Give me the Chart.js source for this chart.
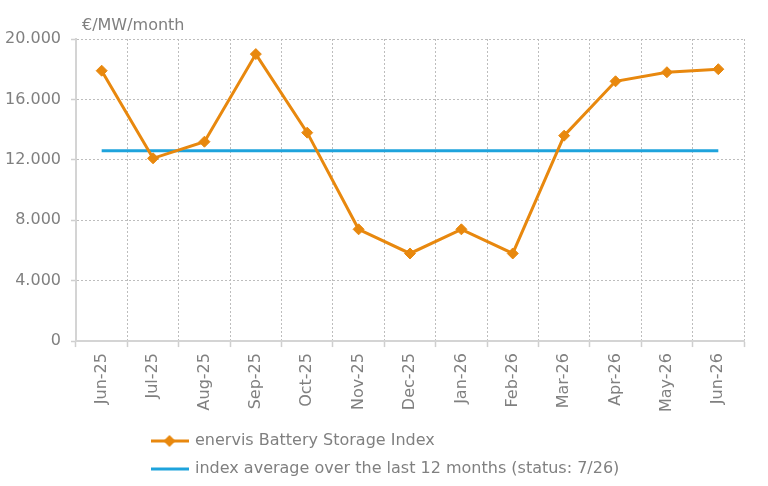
<!DOCTYPE html>
<html><head><meta charset="utf-8">
<script src="https://cdn.jsdelivr.net/npm/chart.js@4.4.1/dist/chart.umd.min.js"></script>
<style>html,body{margin:0;padding:0;background:#fff;} #wrap{width:768px;height:486px;position:relative;}</style>
</head><body><div id="wrap"><canvas id="c"></canvas></div>
<script>
const categories = ['Jun-25','Jul-25','Aug-25','Sep-25','Oct-25','Nov-25','Dec-25','Jan-26','Feb-26','Mar-26','Apr-26','May-26','Jun-26'];
const indexValues = [17900, 12100, 13200, 19000, 13800, 7400, 5800, 7400, 5800, 13600, 17200, 17800, 18000];
const averageValues = [12600, 12600, 12600, 12600, 12600, 12600, 12600, 12600, 12600, 12600, 12600, 12600, 12600];
const yTicks = [0, 4000, 8000, 12000, 16000, 20000];
const yTickLabels = ['0', '4.000', '8.000', '12.000', '16.000', '20.000'];
const seriesNames = ['enervis Battery Storage Index', 'index average over the last 12 months (status: 7/26)'];
const unitLabel = '€/MW/month';

const ORANGE = '#e8880e';
const BLUE = '#1ea3dc';
const TEXT = '#808080';
const FONT = 'DejaVu Sans';

function legendImage(color, diamond) {
  const c = document.createElement('canvas');
  c.width = 38; c.height = 14;
  const g = c.getContext('2d');
  g.strokeStyle = color; g.lineWidth = 3;
  g.beginPath(); g.moveTo(0, 7); g.lineTo(38, 7); g.stroke();
  if (diamond) {
    g.fillStyle = color;
    g.beginPath(); g.moveTo(19, 1); g.lineTo(25, 7); g.lineTo(19, 13); g.lineTo(13, 7); g.closePath(); g.fill();
  }
  return c;
}
const legendImages = [legendImage(ORANGE, true), legendImage(BLUE, false)];

const shiftPlugin = {
  id: 'shiftLegend',
  afterLayout(chart) {
    chart.legend.left += 145;
    chart.legend.right += 145;
    chart.legend.top += 3;
    chart.legend.bottom += 3;
  },
  afterDraw(chart) {
    const ctx = chart.ctx;
    ctx.save();
    ctx.font = '16px "' + FONT + '"';
    ctx.fillStyle = TEXT;
    ctx.textBaseline = 'middle';
    ctx.textAlign = 'left';
    ctx.fillText(unitLabel, chart.chartArea.left + 6, chart.chartArea.top - 13);
    ctx.restore();
  }
};

new Chart(document.getElementById('c'), {
  type: 'line',
  data: {
    labels: categories,
    datasets: [
      {
        label: seriesNames[0], data: indexValues,
        borderColor: ORANGE, backgroundColor: ORANGE, borderWidth: 3,
        pointStyle: 'rectRot', pointRadius: 5.5, pointBorderWidth: 1,
        pointBackgroundColor: ORANGE, pointBorderColor: ORANGE, tension: 0
      },
      {
        label: seriesNames[1], data: averageValues,
        borderColor: BLUE, backgroundColor: BLUE, borderWidth: 3,
        pointRadius: 0, tension: 0
      }
    ]
  },
  options: {
    responsive: true, maintainAspectRatio: false, animation: false,
    layout: { padding: { left: -5, right: 24, top: 39, bottom: 2 } },
    plugins: {
      tooltip: { enabled: false },
      title: { display: false },
      legend: {
        position: 'bottom', align: 'start',
        labels: {
          color: TEXT, font: { family: FONT, size: 16 }, padding: 12,
          usePointStyle: true, pointStyleWidth: 35,
          generateLabels: (chart) => seriesNames.map((name, i) => ({
            text: name, fontColor: TEXT, pointStyle: legendImages[i],
            fillStyle: i ? BLUE : ORANGE, strokeStyle: i ? BLUE : ORANGE,
            lineWidth: 0, hidden: false, datasetIndex: i
          }))
        }
      }
    },
    scales: {
      x: {
        offset: true,
        grid: { offset: true, color: '#bdbdbd', lineWidth: 1, tickLength: 6, tickColor: '#cfcfcf', tickWidth: 1.5 },
        border: { display: true, color: '#d4d4d4', width: 2, dash: [2, 2] },
        ticks: { color: TEXT, font: { family: FONT, size: 16 }, minRotation: 90, maxRotation: 90, padding: 6, autoSkip: false }
      },
      y: {
        min: 0, max: 20000,
        afterBuildTicks: (s) => { s.ticks = yTicks.map(v => ({ value: v })); },
        grid: { color: '#bdbdbd', lineWidth: 1, tickLength: 5, tickColor: '#cfcfcf', tickWidth: 1.5 },
        border: { display: true, color: '#d4d4d4', width: 2, dash: [2, 2] },
        ticks: {
          color: TEXT, font: { family: FONT, size: 16 }, padding: 10,
          callback: (v) => { const i = yTicks.indexOf(v); return i >= 0 ? yTickLabels[i] : ''; }
        }
      }
    }
  },
  plugins: [shiftPlugin]
});
</script></body></html>
